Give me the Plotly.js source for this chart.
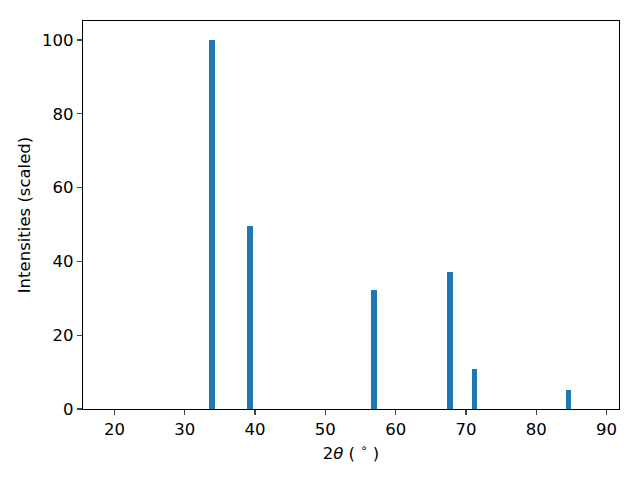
<!DOCTYPE html>
<html><head><meta charset="utf-8">
<script src="https://cdn.plot.ly/plotly-3.0.1.min.js"></script>
<style>html,body{margin:0;padding:0;background:#fff}#chart{width:640px;height:480px}</style>
</head><body><div id="chart"></div>
<script>
const twoTheta = [33.87, 39.25, 56.9, 67.75, 71.24, 84.6];
const intensities = [100, 49.6, 32.2, 37.1, 10.8, 5.15];
const xTicks = [20, 30, 40, 50, 60, 70, 80, 90];
const yTicks = [0, 20, 40, 60, 80, 100];

const font = {family: 'DejaVu Sans', size: 16.5, color: '#000'};
Plotly.newPlot('chart', [{
  type: 'bar', x: twoTheta, y: intensities, width: 0.8,
  marker: {color: '#1f77b4', line: {width: 0}}
}], {
  width: 640, height: 480,
  margin: {l: 83, r: 21, t: 21, b: 71},
  paper_bgcolor: '#fff', plot_bgcolor: '#fff',
  font: font, showlegend: false,
  xaxis: {range: [15.53, 91.77], tickvals: xTicks, ticks: 'outside', ticklen: 5, tickwidth: 1.1,
    showline: true, mirror: true, linecolor: '#000', linewidth: 1.1, showgrid: false, zeroline: false,
    tickfont: font, title: {text: '2<i>θ</i> ( <sup>∘</sup> )', font: font, standoff: 9}},
  yaxis: {range: [0, 105.15], tickvals: yTicks, ticks: 'outside', ticklen: 5, tickwidth: 1.1,
    showline: true, mirror: true, linecolor: '#000', linewidth: 1.1, showgrid: false, zeroline: false,
    tickfont: font, title: {text: 'Intensities (scaled)', font: font, standoff: 7}},
  bargap: 0
}, {staticPlot: true, displayModeBar: false});
</script></body></html>
